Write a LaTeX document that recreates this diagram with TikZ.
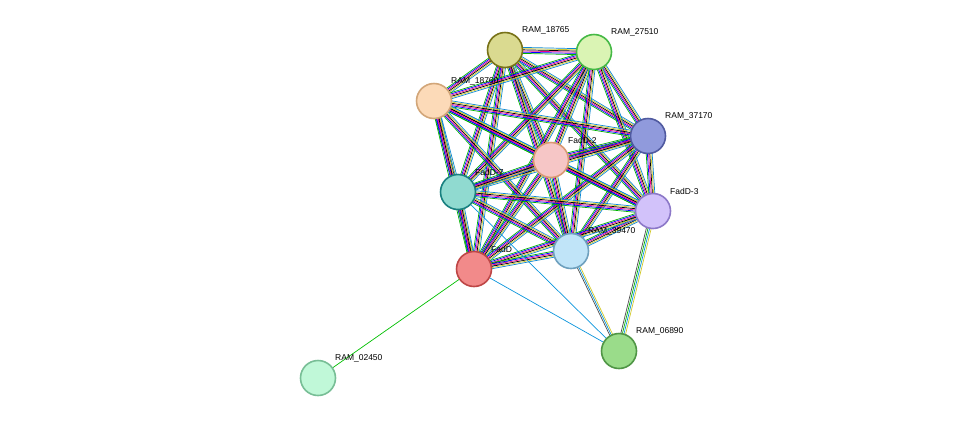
\documentclass[tikz,border=0pt]{standalone}
\usepackage{fontspec}
\setmainfont{Liberation Sans}
\usetikzlibrary{calc}
\begin{document}
\begin{tikzpicture}[x=1pt,y=-1pt,
  prot/.style={circle,draw,line width=1.6pt,minimum size=35pt,inner sep=0pt},
  lab/.style={font=\fontsize{8.5}{10}\selectfont,anchor=south west,inner sep=1pt},
  el/.style={line width=0.7pt}]
\useasboundingbox (0,0) rectangle (975,424);
\def\medge#1#2{%
 \foreach \k/\c in {-3/green!70!black,-1.8/blue,-0.6/magenta,0.6/black,1.8/yellow!80!black,3/cyan!70!blue}{
  \draw[el,\c] ($(#1)!\k pt!90:(#2)$) -- ($(#2)!\k pt!-90:(#1)$);}}
\coordinate (a) at (505,50);
\coordinate (b) at (594,52);
\coordinate (c) at (434,101);
\coordinate (d) at (648,136);
\coordinate (e) at (551,160);
\coordinate (f) at (458,192);
\coordinate (g) at (653,211);
\coordinate (h) at (571,251);
\coordinate (i) at (474,269);
\coordinate (j) at (619,351);
\coordinate (k) at (318,378);
\foreach \p/\q in {a/b,a/c,a/d,a/e,a/f,a/g,a/h,a/i,b/c,b/d,b/e,b/f,b/g,b/h,b/i,c/d,c/e,c/f,c/g,c/h,c/i,d/e,d/f,d/g,d/h,d/i,e/f,e/g,e/h,e/i,f/g,f/h,f/i,g/h,g/i,h/i}{\medge{\p}{\q}}
\draw[el,green!75!black] (i) -- (k);
\draw[el,cyan!80!blue] (i) -- (j);
\draw[el,cyan!80!blue] (f) -- (j);
\foreach \k/\c in {-1.5/black!70,0/cyan!80!blue,1.5/yellow!80!black}{\draw[el,\c] ($(h)!\k pt!90:(j)$) -- ($(j)!\k pt!-90:(h)$);}
\foreach \k/\c in {-2.4/black!70,-0.8/green!70!black,0.8/cyan!80!blue,2.4/yellow!80!black}{\draw[el,\c] ($(g)!\k pt!90:(j)$) -- ($(j)!\k pt!-90:(g)$);}
\node[prot,draw=olive!80!black,fill={rgb,255:red,218;green,218;blue,144}] (A) at (a) {};
\node[prot,draw=green!45!gray,fill={rgb,255:red,218;green,244;blue,180}] (B) at (b) {};
\node[prot,draw=brown!70!white,fill={rgb,255:red,252;green,218;blue,184}] (C) at (c) {};
\node[prot,draw={rgb,255:red,80;green,90;blue,160},fill={rgb,255:red,144;green,154;blue,220}] (D) at (d) {};
\node[prot,draw=brown!60!pink,fill={rgb,255:red,246;green,198;blue,198}] (E) at (e) {};
\node[prot,draw=teal!80!gray,fill={rgb,255:red,144;green,218;blue,208}] (F) at (f) {};
\node[prot,draw={rgb,255:red,140;green,120;blue,200},fill={rgb,255:red,210;green,194;blue,250}] (G) at (g) {};
\node[prot,draw={rgb,255:red,110;green,160;blue,190},fill={rgb,255:red,192;green,228;blue,248}] (H) at (h) {};
\node[prot,draw={rgb,255:red,190;green,70;blue,70},fill={rgb,255:red,242;green,138;blue,138}] (I) at (i) {};
\node[prot,draw={rgb,255:red,80;green,150;blue,70},fill={rgb,255:red,154;green,220;blue,138}] (J) at (j) {};
\node[prot,draw={rgb,255:red,120;green,190;blue,150},fill={rgb,255:red,192;green,248;blue,216}] (K) at (k) {};
\node[lab] at (521,35) {RAM\_18765};
\node[lab] at (610,37) {RAM\_27510};
\node[lab] at (450,86) {RAM\_18760};
\node[lab] at (664,121) {RAM\_37170};
\node[lab] at (567,145) {FadD-2};
\node[lab] at (474,177) {FadD-7};
\node[lab] at (669,196) {FadD-3};
\node[lab] at (587,236) {RAM\_39470};
\node[lab] at (490,254) {FadD};
\node[lab] at (635,336) {RAM\_06890};
\node[lab] at (334,363) {RAM\_02450};
\end{tikzpicture}
\end{document}
